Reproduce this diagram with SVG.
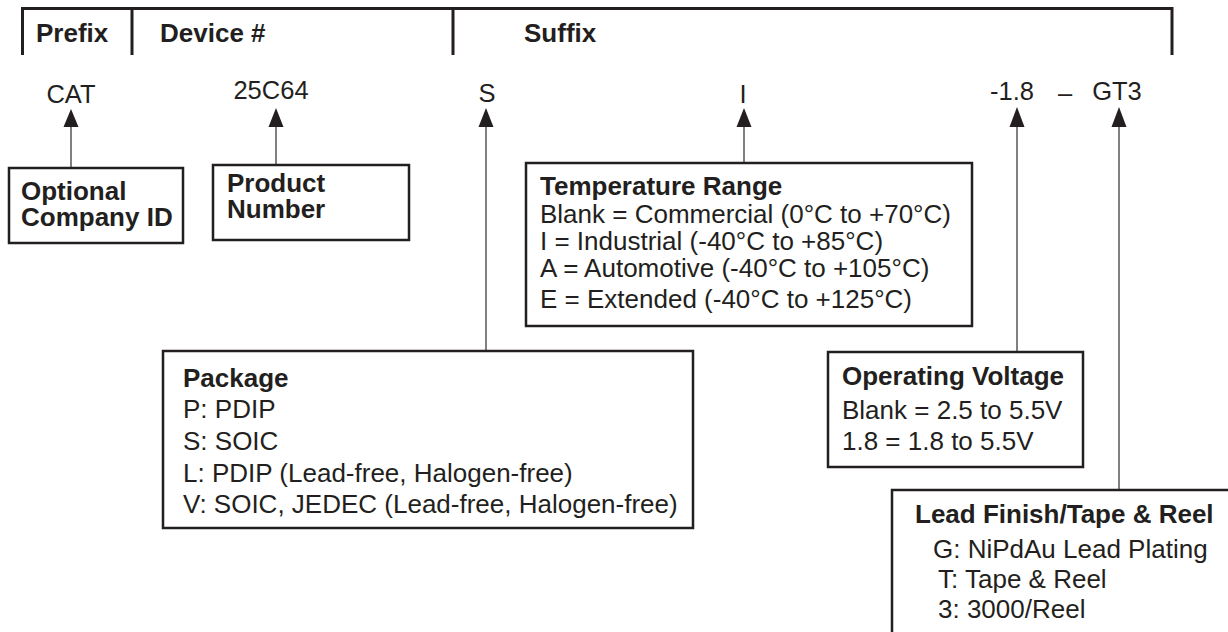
<svg xmlns="http://www.w3.org/2000/svg" width="1228" height="632" viewBox="0 0 1228 632">
<style>
.hdr{font-family:"Liberation Sans",Arial,sans-serif;font-weight:bold;font-size:26px;fill:#231f20}
.code{font-family:"Liberation Sans",Arial,sans-serif;font-size:25.5px;fill:#231f20}
.bt{font-family:"Liberation Sans",Arial,sans-serif;font-weight:bold;font-size:26px;fill:#231f20}
.tx{font-family:"Liberation Sans",Arial,sans-serif;font-size:26px;fill:#231f20}
.box{fill:#ffffff;stroke:#231f20;stroke-width:2.5}
.frame{fill:none;stroke:#231f20;stroke-width:3}
.conn line{stroke:#4a4a4a;stroke-width:1.4}
.conn polygon{fill:#231f20}
</style>
<g id="header">
<path class="frame" d="M22.5 55 V8.5 H1172 V55 M132 8.5 V55 M453 8.5 V55"/>
<text class="hdr" x="36" y="42">Prefix</text>
<text class="hdr" x="160" y="42">Device #</text>
<text class="hdr" x="524" y="42">Suffix</text>
</g>
<g id="codes">
<text class="code" x="71" y="103" text-anchor="middle">CAT</text>
<text class="code" x="271" y="99" text-anchor="middle">25C64</text>
<text class="code" x="487" y="102" text-anchor="middle">S</text>
<text class="code" x="743" y="103" text-anchor="middle">I</text>
<text class="code" x="1012" y="100" text-anchor="middle">-1.8</text>
<text class="code" x="1065" y="102" text-anchor="middle">–</text>
<text class="code" x="1117" y="100" text-anchor="middle">GT3</text>
</g>
<g id="connectors" class="conn">
<line x1="71" y1="125" x2="71" y2="168"/>
<polygon points="71,109 63.5,127 78.5,127"/>
<line x1="276" y1="125" x2="276" y2="165"/>
<polygon points="276,108 268.5,127 283.5,127"/>
<line x1="486" y1="125" x2="486" y2="351"/>
<polygon points="486,108 478.5,127 493.5,127"/>
<line x1="744" y1="125" x2="744" y2="163"/>
<polygon points="744,108 736.5,127 751.5,127"/>
<line x1="1017" y1="125" x2="1017" y2="352"/>
<polygon points="1017,107 1009.5,127 1024.5,127"/>
<line x1="1119" y1="125" x2="1119" y2="490"/>
<polygon points="1119,107 1111.5,127 1126.5,127"/>
</g>
<g id="company-id">
<rect class="box" x="9" y="168" width="174" height="75"/>
<text class="bt" x="21" y="200">Optional</text>
<text class="bt" x="21" y="226">Company ID</text>
</g>
<g id="product-number">
<rect class="box" x="213" y="165" width="196" height="75"/>
<text class="bt" x="227" y="192">Product</text>
<text class="bt" x="227" y="218">Number</text>
</g>
<g id="temperature-range">
<rect class="box" x="526" y="163" width="446" height="163"/>
<text class="bt" x="540" y="195">Temperature Range</text>
<text class="tx" x="540" y="223">Blank = Commercial (0°C to +70°C)</text>
<text class="tx" x="540" y="250">I = Industrial (-40°C to +85°C)</text>
<text class="tx" x="540" y="277">A = Automotive (-40°C to  +105°C)</text>
<text class="tx" x="540" y="308">E = Extended (-40°C to +125°C)</text>
</g>
<g id="package">
<rect class="box" x="163" y="351" width="530" height="177"/>
<text class="bt" x="183" y="387">Package</text>
<text class="tx" x="183" y="418">P: PDIP</text>
<text class="tx" x="183" y="450">S: SOIC</text>
<text class="tx" x="183" y="482">L: PDIP (Lead-free, Halogen-free)</text>
<text class="tx" x="183" y="513">V: SOIC, JEDEC (Lead-free, Halogen-free)</text>
</g>
<g id="operating-voltage">
<rect class="box" x="828" y="352" width="255" height="115"/>
<text class="bt" x="842" y="385">Operating Voltage</text>
<text class="tx" x="842" y="419">Blank = 2.5 to 5.5V</text>
<text class="tx" x="842" y="450">1.8 = 1.8 to 5.5V</text>
</g>
<g id="lead-finish">
<rect class="box" x="892" y="490" width="360" height="160"/>
<text class="bt" x="915" y="523">Lead Finish/Tape &amp; Reel</text>
<text class="tx" x="933" y="558">G: NiPdAu Lead Plating</text>
<text class="tx" x="938" y="588">T: Tape &amp; Reel</text>
<text class="tx" x="938" y="618">3: 3000/Reel</text>
</g>
</svg>
